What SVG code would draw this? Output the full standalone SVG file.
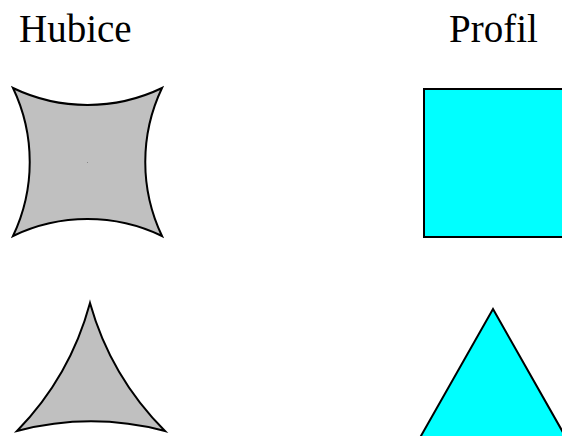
<svg xmlns="http://www.w3.org/2000/svg" width="562" height="436" viewBox="0 0 562 436">
<style>
.lbl{font-family:"Liberation Serif","Times New Roman",serif;font-size:39px;fill:#000}
.die{fill:#c0c0c0;stroke:#000;stroke-width:2;stroke-linejoin:miter}
.prof{fill:#00ffff;stroke:#000;stroke-width:2}
</style>
<rect width="562" height="436" fill="#fff"/>
<g id="labels">
<text class="lbl" x="19" y="42">Hubice</text>
<text class="lbl" x="449" y="42">Profil</text>
</g>
<g id="die-square">
<path class="die" d="M13,88 A172,172 0 0 0 162,88 A172,172 0 0 0 162,236 A172,172 0 0 0 13,236 A172,172 0 0 0 13,88 Z"/>
<rect x="87" y="162" width="1" height="1" fill="#888"/>
</g>
<g id="die-triangle">
<path class="die" d="M90,303 A293,293 0 0 0 165,431 A293,293 0 0 0 17,431 A293,293 0 0 0 90,303 Z"/>
</g>
<g id="profile-square">
<rect class="prof" x="424" y="89" width="150" height="148"/>
</g>
<g id="profile-triangle">
<polygon class="prof" points="493,309 573,450 413,450"/>
</g>
<g id="connectors"/>
</svg>
